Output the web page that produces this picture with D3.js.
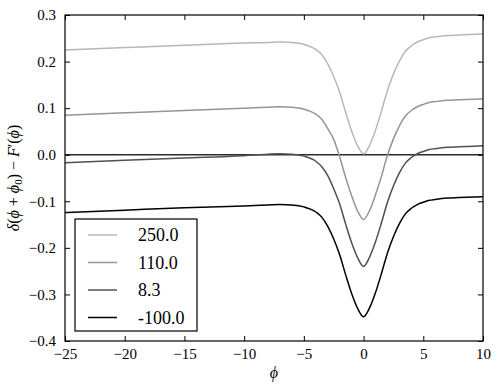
<!DOCTYPE html>
<html>
<head>
<meta charset="utf-8">
<script src="https://cdn.jsdelivr.net/npm/d3@7"></script>
<style>
  body { margin: 0; background: #fff; }
  text { font-family: "Liberation Serif", "DejaVu Serif", serif; fill: #000; }
</style>
</head>
<body>
<svg id="chart" width="500" height="390"></svg>
<script>
// values
var phi = [-25, -20, -15, -10, -8, -7, -6, -5, -4, -3.5, -3, -2.5, -2, -1.5, -1, -0.5, 0,
           0.5, 1, 1.5, 2, 2.5, 3, 3.5, 4, 4.5, 5, 5.5, 6, 7, 8, 10];
var s250 = [0.225, 0.230, 0.235, 0.240, 0.241, 0.242, 0.241, 0.237, 0.226, 0.215, 0.195, 0.168, 0.134, 0.091, 0.051, 0.019, 0.002,
            0.020, 0.053, 0.094, 0.138, 0.173, 0.201, 0.222, 0.234, 0.242, 0.247, 0.251, 0.253, 0.256, 0.257, 0.259];
var s110 = [0.085, 0.090, 0.095, 0.100, 0.102, 0.103, 0.102, 0.098, 0.087, 0.076, 0.056, 0.033, -0.005, -0.049, -0.088, -0.121, -0.139,
            -0.120, -0.086, -0.046, -0.001, 0.034, 0.062, 0.083, 0.095, 0.103, 0.108, 0.112, 0.114, 0.117, 0.118, 0.120];
var s8 = [-0.017, -0.012, -0.007, -0.002, 0.001, 0.002, 0.001, -0.003, -0.014, -0.026, -0.045, -0.073, -0.106, -0.149, -0.189, -0.221, -0.240,
          -0.220, -0.187, -0.146, -0.102, -0.067, -0.039, -0.018, -0.006, 0.002, 0.007, 0.011, 0.013, 0.016, 0.017, 0.019];
var sm100 = [-0.124, -0.119, -0.114, -0.110, -0.108, -0.107, -0.108, -0.112, -0.123, -0.134, -0.154, -0.181, -0.215, -0.258, -0.298, -0.330, -0.348,
             -0.329, -0.296, -0.255, -0.211, -0.176, -0.148, -0.127, -0.115, -0.107, -0.102, -0.098, -0.096, -0.093, -0.092, -0.090];
var labels = ["250.0", "110.0", "8.3", "-100.0"];
var colors = ["#b8b8b8", "#959595", "#505050", "#000000"];
var xTicks = [-25, -20, -15, -10, -5, 0, 5, 10];
var yTicks = [-0.4, -0.3, -0.2, -0.1, 0.0, 0.1, 0.2, 0.3];

var series = [s250, s110, s8, sm100].map(function(v, i) {
  return { name: labels[i], color: colors[i], values: phi.map(function(p, j) { return { x: p, y: v[j] }; }) };
});

var mLeft = 65, mRight = 483, mTop = 15, mBottom = 341;
var svg = d3.select("#chart");

var x = d3.scaleLinear().domain([-25, 10]).range([mLeft, mRight]);
var y = d3.scaleLinear().domain([-0.4, 0.3]).range([mBottom, mTop]);

var minus = function(s) { return s.replace("-", "\u2212"); };

// clip to plot area
svg.append("clipPath").attr("id", "clip")
  .append("rect").attr("x", mLeft).attr("y", mTop).attr("width", mRight - mLeft).attr("height", mBottom - mTop);

var plot = svg.append("g").attr("clip-path", "url(#clip)");

// zero line
plot.append("line")
  .attr("x1", mLeft).attr("x2", mRight)
  .attr("y1", y(0)).attr("y2", y(0))
  .attr("stroke", "#2a2a2a").attr("stroke-width", 1.6);

var line = d3.line()
  .x(function(d) { return x(d.x); })
  .y(function(d) { return y(d.y); })
  .curve(d3.curveMonotoneX);

plot.selectAll("path.series")
  .data(series).enter()
  .append("path")
  .attr("class", "series")
  .attr("d", function(d) { return line(d.values); })
  .attr("fill", "none")
  .attr("stroke", function(d) { return d.color; })
  .attr("stroke-width", 1.5);

// axes with inward ticks on all sides
var bottomAxis = d3.axisBottom(x).tickValues(xTicks).tickSize(-5).tickPadding(7)
  .tickFormat(function(d) { return minus(d3.format("d")(d)); });
var topAxis = d3.axisTop(x).tickValues(xTicks).tickSize(-5).tickFormat("");
var leftAxis = d3.axisLeft(y).tickValues(yTicks).tickSize(-5).tickPadding(9)
  .tickFormat(function(d) { return minus(d3.format(".1f")(d)); });
var rightAxis = d3.axisRight(y).tickValues(yTicks).tickSize(-5).tickFormat("");

function style(g) {
  g.select(".domain").remove();
  g.selectAll(".tick line").attr("stroke", "#000").attr("stroke-width", 1);
  g.selectAll(".tick text").attr("font-size", 15).attr("font-family", "Liberation Serif, serif").attr("fill", "#000");
}

svg.append("g").attr("transform", "translate(0," + mBottom + ")").call(bottomAxis).call(style);
svg.append("g").attr("transform", "translate(0," + mTop + ")").call(topAxis).call(style);
svg.append("g").attr("transform", "translate(" + mLeft + ",0)").call(leftAxis).call(style);
svg.append("g").attr("transform", "translate(" + mRight + ",0)").call(rightAxis).call(style);

// frame
svg.append("rect")
  .attr("x", mLeft).attr("y", mTop).attr("width", mRight - mLeft).attr("height", mBottom - mTop)
  .attr("fill", "none").attr("stroke", "#000").attr("stroke-width", 1.2);

// x label
svg.append("text")
  .attr("x", (mLeft + mRight) / 2).attr("y", 378)
  .attr("text-anchor", "middle").attr("font-size", 16).attr("font-style", "italic")
  .text("\u03d5");

// y label
var yl = svg.append("text")
  .attr("transform", "translate(19," + ((mTop + mBottom) / 2) + ") rotate(-90)")
  .attr("text-anchor", "middle").attr("font-size", 16);
yl.append("tspan").attr("font-style", "italic").text("\u03b4");
yl.append("tspan").text("(");
yl.append("tspan").attr("font-style", "italic").text("\u03d5");
yl.append("tspan").text(" + ");
yl.append("tspan").attr("font-style", "italic").text("\u03d5");
yl.append("tspan").attr("font-size", 11).attr("dy", 3).text("0");
yl.append("tspan").attr("dy", -3).text(") \u2212 ");
yl.append("tspan").attr("font-style", "italic").text("F");
yl.append("tspan").text("\u2032(");
yl.append("tspan").attr("font-style", "italic").text("\u03d5");
yl.append("tspan").text(")");

// legend
var lg = svg.append("g");
lg.append("rect")
  .attr("x", 75).attr("y", 219).attr("width", 122).attr("height", 112)
  .attr("fill", "#fff").attr("stroke", "#000").attr("stroke-width", 1.2);
var rows = lg.selectAll("g.row").data(series).enter().append("g")
  .attr("class", "row")
  .attr("transform", function(d, i) { return "translate(0," + (235 + i * 27.5) + ")"; });
rows.append("line")
  .attr("x1", 88).attr("x2", 117)
  .attr("stroke", function(d) { return d.color; }).attr("stroke-width", 1.5);
rows.append("text")
  .attr("x", 138).attr("dy", "0.35em").attr("font-size", 18)
  .text(function(d) { return d.name; });
</script>
</body>
</html>
